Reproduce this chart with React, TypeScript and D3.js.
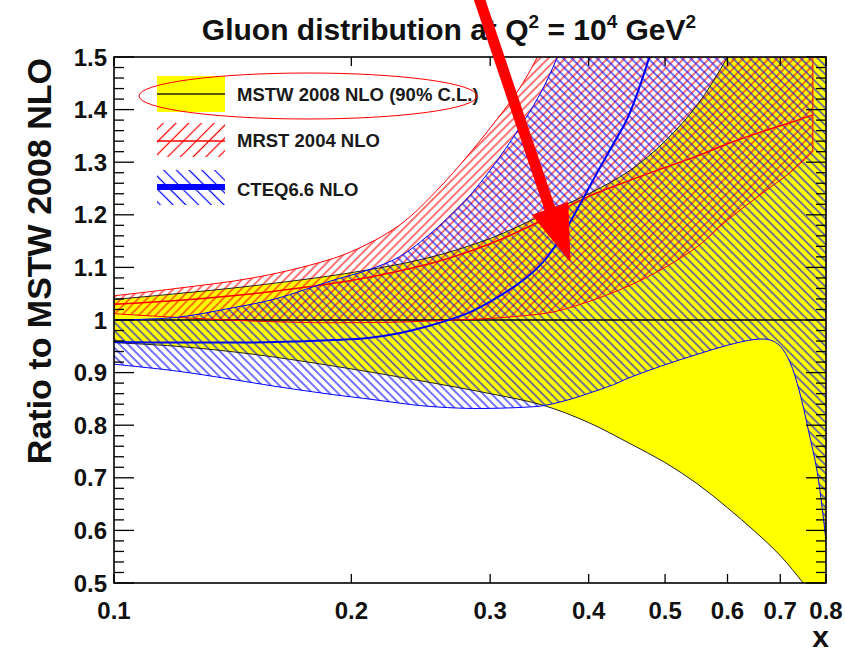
import React from 'react';
import * as d3 from 'd3';

// ---------- data ----------
const mstwX = [0.1, 0.12, 0.15, 0.2, 0.25, 0.3, 0.35, 0.4, 0.45, 0.5, 0.55, 0.6, 0.65, 0.7, 0.75, 0.8];
const mstwUpper = [1.039, 1.05, 1.065, 1.09, 1.118, 1.155, 1.2, 1.24, 1.283, 1.34, 1.41, 1.5, 1.6, 1.72, 1.85, 2.0];
const mstwLower = [0.957, 0.95, 0.935, 0.907, 0.882, 0.86, 0.838, 0.805, 0.766, 0.729, 0.688, 0.643, 0.598, 0.552, 0.498, 0.44];

const mrstX = [0.1, 0.12, 0.15, 0.18, 0.2, 0.23, 0.26, 0.3, 0.33, 0.36, 0.4, 0.45, 0.5, 0.55, 0.6, 0.67, 0.72, 0.77];
const mrstUpper = [1.046, 1.06, 1.08, 1.107, 1.13, 1.18, 1.255, 1.365, 1.45, 1.56, 1.72, 1.95, 2.2, 2.45, 2.7, 3.0, 3.2, 3.4];
const mrstCentral = [1.03, 1.037, 1.05, 1.065, 1.075, 1.093, 1.113, 1.145, 1.172, 1.2, 1.235, 1.265, 1.29, 1.312, 1.335, 1.36, 1.375, 1.39];
const mrstLower = [1.012, 1.005, 0.998, 0.995, 0.995, 0.996, 0.999, 1.003, 1.008, 1.015, 1.035, 1.065, 1.1, 1.14, 1.19, 1.245, 1.28, 1.32];

const cteqX = [0.1, 0.12, 0.14, 0.16, 0.19, 0.21, 0.23, 0.25, 0.28, 0.3, 0.33, 0.35, 0.37, 0.39, 0.41, 0.43, 0.45, 0.5, 0.55, 0.6, 0.65, 0.68, 0.7, 0.72, 0.74, 0.76, 0.78, 0.8];
const cteqUpper = [1.0, 1.005, 1.022, 1.04, 1.076, 1.095, 1.12, 1.16, 1.23, 1.285, 1.375, 1.44, 1.52, 1.6, 1.7, 1.8, 1.9, 2.2, 2.5, 2.8, 3.1, 3.3, 3.4, 3.5, 3.6, 3.7, 3.8, 3.9];
const cteqCentral = [0.958, 0.957, 0.957, 0.958, 0.962, 0.966, 0.975, 0.988, 1.012, 1.035, 1.075, 1.11, 1.16, 1.22, 1.28, 1.335, 1.39, 1.6, 1.85, 2.1, 2.35, 2.5, 2.6, 2.7, 2.8, 2.9, 3.0, 3.1];
const cteqLower = [0.916, 0.903, 0.888, 0.874, 0.858, 0.85, 0.842, 0.836, 0.832, 0.832, 0.834, 0.837, 0.845, 0.855, 0.866, 0.877, 0.89, 0.915, 0.935, 0.952, 0.963, 0.962, 0.95, 0.92, 0.865, 0.79, 0.71, 0.58];

const xTickValues = [0.1, 0.2, 0.3, 0.4, 0.5, 0.6, 0.7, 0.8];
const xTickLabels = ['0.1', '0.2', '0.3', '0.4', '0.5', '0.6', '0.7', '0.8'];
const yTickValues = [0.5, 0.6, 0.7, 0.8, 0.9, 1.0, 1.1, 1.2, 1.3, 1.4, 1.5];
const yTickLabels = ['0.5', '0.6', '0.7', '0.8', '0.9', '1', '1.1', '1.2', '1.3', '1.4', '1.5'];

const legendLabels = ['MSTW 2008 NLO (90% C.L.)', 'MRST 2004 NLO', 'CTEQ6.6 NLO'];

// ---------- layout ----------
const W = 845;
const H = 652;
const L = 114, R = 826, T = 57, B = 583;
const FONT = '"Liberation Sans", Arial, Helvetica, sans-serif';

export default function App() {
  const x = d3.scaleLog().domain([0.1, 0.8]).range([L, R]);
  const y = d3.scaleLinear().domain([0.5, 1.5]).range([B, T]);
  const curve = d3.curveCatmullRom.alpha(0.5);

  const mk = (xs: number[], lo: number[], hi: number[]) =>
    d3.area<number>()
      .x((i) => x(xs[i]))
      .y0((i) => y(lo[i]))
      .y1((i) => y(hi[i]))
      .curve(curve)(xs.map((_, i) => i)) || '';
  const ln = (xs: number[], v: number[]) =>
    d3.line<number>()
      .x((i) => x(xs[i]))
      .y((i) => y(v[i]))
      .curve(curve)(xs.map((_, i) => i)) || '';

  const yMinor = d3.range(0, 51).map((i) => 0.5 + i * 0.02);

  return (
    <svg width={W} height={H} style={{ position: 'absolute', left: 0, top: 0, background: '#fff' }} fontFamily={FONT}>
      <defs>
        <clipPath id="frame">
          <rect x={L} y={T} width={R - L} height={B - T} />
        </clipPath>
        <pattern id="hRed" patternUnits="userSpaceOnUse" width="6" height="6" patternTransform="rotate(45)">
          <line x1="3" y1="-1" x2="3" y2="7" stroke="#ff0000" strokeWidth="1.1" />
        </pattern>
        <pattern id="hBlue" patternUnits="userSpaceOnUse" width="6" height="6" patternTransform="rotate(-45)">
          <line x1="3" y1="-1" x2="3" y2="7" stroke="#0000ff" strokeWidth="1.1" />
        </pattern>
        <pattern id="lRed" patternUnits="userSpaceOnUse" width="9" height="9" patternTransform="rotate(45)">
          <line x1="4.5" y1="-1" x2="4.5" y2="10" stroke="#ff0000" strokeWidth="1.2" />
        </pattern>
        <pattern id="lBlue" patternUnits="userSpaceOnUse" width="9" height="9" patternTransform="rotate(-45)">
          <line x1="4.5" y1="-1" x2="4.5" y2="10" stroke="#0000ff" strokeWidth="1.2" />
        </pattern>
      </defs>

      <g clipPath="url(#frame)">
        <path d={mk(mstwX, mstwLower, mstwUpper)} fill="#ffff00" />
        <path d={mk(mrstX, mrstLower, mrstUpper)} fill="url(#hRed)" />
        <path d={mk(cteqX, cteqLower, cteqUpper)} fill="url(#hBlue)" />

        <path d={ln(mstwX, mstwUpper)} fill="none" stroke="#222" strokeWidth={1} />
        <path d={ln(mstwX, mstwLower)} fill="none" stroke="#222" strokeWidth={1} />
        <line x1={L} x2={R} y1={y(1)} y2={y(1)} stroke="#000" strokeWidth={1.6} />

        <path d={mk(mrstX, mrstLower, mrstUpper)} fill="none" stroke="#ff0000" strokeWidth={1} />
        <path d={ln(mrstX, mrstCentral)} fill="none" stroke="#ff0000" strokeWidth={1.5} />

        <path d={ln(cteqX, cteqUpper)} fill="none" stroke="#0000ff" strokeWidth={1} />
        <path d={ln(cteqX, cteqLower)} fill="none" stroke="#0000ff" strokeWidth={1} />
        <path d={ln(cteqX, cteqCentral)} fill="none" stroke="#0000ff" strokeWidth={2} />
      </g>

      {/* frame */}
      <rect x={L} y={T} width={R - L} height={B - T} fill="none" stroke="#000" strokeWidth={1.6} />

      {/* y ticks */}
      {yMinor.map((v, i) => {
        const major = i % 5 === 0;
        const len = major ? 20 : 10;
        return (
          <g key={'yt' + i}>
            <line x1={L} x2={L + len} y1={y(v)} y2={y(v)} stroke="#000" strokeWidth={1.3} />
            <line x1={R} x2={R - len} y1={y(v)} y2={y(v)} stroke="#000" strokeWidth={1.3} />
          </g>
        );
      })}
      {yTickValues.map((v, i) => (
        <text key={'yl' + i} x={107} y={y(v)} dy="0.36em" textAnchor="end" fontSize={24} fontWeight="bold" fill="#111">
          {yTickLabels[i]}
        </text>
      ))}

      {/* x ticks */}
      {xTickValues.map((v, i) => (
        <g key={'xt' + i}>
          <line x1={x(v)} x2={x(v)} y1={B} y2={B - 9} stroke="#000" strokeWidth={1.3} />
          <line x1={x(v)} x2={x(v)} y1={T} y2={T + 9} stroke="#000" strokeWidth={1.3} />
          <text x={x(v)} y={619} textAnchor="middle" fontSize={24} fontWeight="bold" fill="#111">
            {xTickLabels[i]}
          </text>
        </g>
      ))}

      {/* axis titles */}
      <text x={829} y={647} textAnchor="end" fontSize={30} fontWeight="bold" fill="#111">x</text>
      <text transform={`translate(51,58) rotate(-90)`} textAnchor="end" fontSize={34} fontWeight="bold" fill="#111">
        Ratio to MSTW 2008 NLO
      </text>

      {/* title */}
      <text x={449} y={40} textAnchor="middle" fontSize={30} fontWeight="bold" fill="#111">
        Gluon distribution at Q<tspan dy={-12} fontSize={19}>2</tspan>
        <tspan dy={12}> = 10</tspan><tspan dy={-12} fontSize={19}>4</tspan>
        <tspan dy={12}> GeV</tspan><tspan dy={-12} fontSize={19}>2</tspan>
      </text>

      {/* legend */}
      <rect x={157} y={76} width={68} height={36} fill="#ffff00" />
      <line x1={157} x2={225} y1={94} y2={94} stroke="#222" strokeWidth={1.6} />
      <rect x={157} y={123} width={68} height={34} fill="url(#lRed)" />
      <line x1={157} x2={225} y1={141} y2={141} stroke="#ff0000" strokeWidth={1.5} />
      <rect x={157} y={170} width={68} height={35} fill="url(#lBlue)" />
      <line x1={157} x2={225} y1={187} y2={187} stroke="#0000ff" strokeWidth={6} />
      {legendLabels.map((t, i) => (
        <text key={'lg' + i} x={237} y={[100.5, 147.3, 195.5][i]} fontSize={18.5} fontWeight="bold" fill="#1a1a1a">
          {t}
        </text>
      ))}
      <ellipse cx={308} cy={96} rx={169} ry={23} fill="none" stroke="#ff0000" strokeWidth={1} />

      {/* annotation arrow */}
      <line x1={478} y1={-5} x2={551} y2={212} stroke="#ff0000" strokeWidth={11} />
      <polygon points="531.7,215 568.3,201.7 570.5,262" fill="#ff0000" />
    </svg>
  );
}
